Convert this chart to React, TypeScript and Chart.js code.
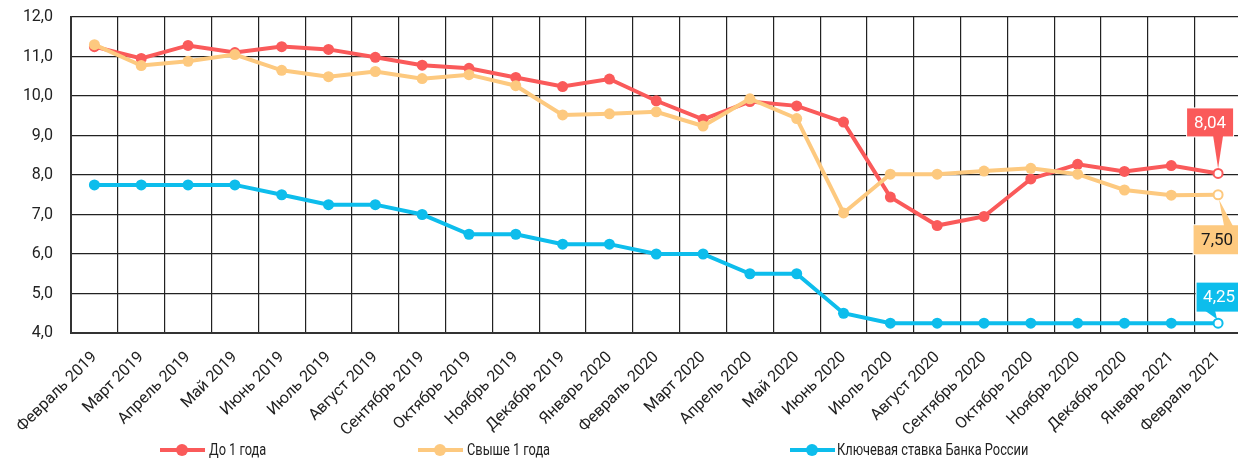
import React, { useEffect, useRef } from "react";
import { Chart, registerables } from "chart.js";

Chart.register(...registerables);

const categories = [
  "Февраль 2019", "Март 2019", "Апрель 2019", "Май 2019", "Июнь 2019", "Июль 2019",
  "Август 2019", "Сентябрь 2019", "Октябрь 2019", "Ноябрь 2019", "Декабрь 2019",
  "Январь 2020", "Февраль 2020", "Март 2020", "Апрель 2020", "Май 2020", "Июнь 2020",
  "Июль 2020", "Август 2020", "Сентябрь 2020", "Октябрь 2020", "Ноябрь 2020",
  "Декабрь 2020", "Январь 2021", "Февраль 2021",
];

const upTo1Year = [
  11.25, 10.95, 11.28, 11.1, 11.25, 11.18, 10.98, 10.78, 10.7, 10.47, 10.24,
  10.43, 9.88, 9.41, 9.86, 9.75, 9.34, 7.44, 6.72, 6.95, 7.9, 8.27, 8.09,
  8.24, 8.04,
];

const over1Year = [
  11.3, 10.77, 10.88, 11.05, 10.65, 10.49, 10.62, 10.44, 10.54, 10.26, 9.52,
  9.55, 9.6, 9.24, 9.93, 9.43, 7.04, 8.02, 8.02, 8.1, 8.17, 8.02, 7.62,
  7.49, 7.5,
];

const keyRate = [
  7.75, 7.75, 7.75, 7.75, 7.5, 7.25, 7.25, 7.0, 6.5, 6.5, 6.25,
  6.25, 6.0, 6.0, 5.5, 5.5, 4.5, 4.25, 4.25, 4.25, 4.25, 4.25, 4.25,
  4.25, 4.25,
];

const seriesNames = ["До 1 года", "Свыше 1 года", "Ключевая ставка Банка России"];
const seriesColors = ["#FA5A5A", "#FDC97F", "#0DBDEC"];
const yMin = 4;
const yMax = 12;
const yStep = 1;

const FONT = "Roboto, 'Noto Sans', sans-serif";

// callout styling per series: box center offset from last point, size, text colour, pointer
const callouts = [
  { dx: -8, dy: -51, w: 46, h: 28, text: "#ffffff", base: [[-5, 0], [5, 0]], baseAt: "bottom", tip: [0, -5] },
  { dx: -1, dy: 45, w: 47, h: 29, text: "#1a1a1a", base: [[6, 0], [15, 0]], baseAt: "top", tip: [1, 5] },
  { dx: 1, dy: -26, w: 45, h: 29, text: "#ffffff", base: [[-13, 0], [-3, 0]], baseAt: "bottom", tip: [-1, -4] },
];

const fmt = (v: number, d: number) => v.toFixed(d).replace(".", ",");

const calloutPlugin = {
  id: "callouts",
  afterDatasetsDraw(chart: any) {
    const ctx = chart.ctx;
    chart.data.datasets.forEach((ds: any, i: number) => {
      const meta = chart.getDatasetMeta(i);
      const pt = meta.data[meta.data.length - 1];
      if (!pt) return;
      const c = callouts[i];
      const x = pt.x;
      const y = pt.y;
      const cx = x + c.dx;
      const cy = y + c.dy;
      const bx = cx - c.w / 2;
      const by = cy - c.h / 2;
      const baseY = c.baseAt === "bottom" ? by + c.h : by;
      ctx.save();
      ctx.fillStyle = seriesColors[i];
      ctx.strokeStyle = "#ffffff";
      ctx.lineWidth = 2;
      ctx.strokeRect(bx, by, c.w, c.h);
      ctx.fillRect(bx, by, c.w, c.h);
      ctx.beginPath();
      ctx.moveTo(x + c.base[0][0], baseY + (c.baseAt === "bottom" ? -1 : 1));
      ctx.lineTo(x + c.base[1][0], baseY + (c.baseAt === "bottom" ? -1 : 1));
      ctx.lineTo(x + c.tip[0], y + c.tip[1]);
      ctx.closePath();
      ctx.fill();
      ctx.fillStyle = c.text;
      ctx.font = `17px ${FONT}`;
      ctx.textAlign = "center";
      ctx.textBaseline = "middle";
      const v = ds.data[ds.data.length - 1];
      ctx.fillText(fmt(v, 2), cx, cy + 1);
      ctx.restore();
    });
  },
};

const legendItems = [
  { line: 160, dot: 182, text: 209 },
  { line: 418, dot: 440, text: 467 },
  { line: 790, dot: 812, text: 837 },
];

export default function App() {
  const ref = useRef<HTMLCanvasElement | null>(null);

  useEffect(() => {
    if (!ref.current) return;
    const last = categories.length - 1;
    const mkDs = (label: string, data: number[], color: string, order: number) => ({
      label,
      data,
      borderColor: color,
      backgroundColor: color,
      borderWidth: 4,
      pointRadius: (c: any) => (c.dataIndex === last ? 4.5 : 5.5),
      pointBackgroundColor: (c: any) => (c.dataIndex === last ? "#ffffff" : color),
      pointBorderColor: color,
      pointBorderWidth: (c: any) => (c.dataIndex === last ? 2 : 0),
      tension: 0,
      order,
    });
    const chart = new Chart(ref.current, {
      type: "line",
      data: {
        labels: categories,
        datasets: [
          mkDs(seriesNames[0], upTo1Year, seriesColors[0], 3),
          mkDs(seriesNames[1], over1Year, seriesColors[1], 2),
          mkDs(seriesNames[2], keyRate, seriesColors[2], 1),
        ],
      },
      options: {
        responsive: false,
        animation: false,
        events: [],
        layout: { padding: { top: 17, right: 0, bottom: 0, left: 0 } },
        plugins: { legend: { display: false }, tooltip: { enabled: false } },
        scales: {
          x: {
            offset: true,
            grid: { offset: true, color: "#222222", lineWidth: 1.2, drawTicks: false },
            border: { color: "#333333", width: 2 },
            ticks: {
              color: "#222222",
              font: { family: FONT, size: 16 },
              minRotation: 45,
              maxRotation: 45,
              autoSkip: false,
              padding: 15,
            },
            afterFit: (s: any) => {
              s.height = 461 - 333;
            },
          },
          y: {
            min: yMin,
            max: yMax,
            grid: {
              color: "#222222",
              lineWidth: 1.2,
              drawTicks: true,
              tickLength: 18,
              tickColor: "rgba(0,0,0,0)",
            },
            border: { color: "#333333", width: 2 },
            ticks: {
              stepSize: yStep,
              color: "#222222",
              font: { family: FONT, size: 16 },
              padding: 0,
              callback: (v: any) => fmt(Number(v), 1),
            },
            afterFit: (s: any) => {
              s.width = 71;
            },
          },
        },
      },
      plugins: [calloutPlugin],
    });
    return () => chart.destroy();
  }, []);

  return (
    <div style={{ position: "fixed", left: 0, top: 0, width: 1238, height: 461, overflow: "hidden", background: "#ffffff" }}>
      <canvas ref={ref} width={1248} height={461} style={{ position: "absolute", left: 0, top: 0 }} />
      {legendItems.map((it, i) => (
        <React.Fragment key={i}>
          <div style={{ position: "absolute", left: it.line, top: 448, width: 45, height: 4, background: seriesColors[i] }} />
          <div style={{ position: "absolute", left: it.dot - 6, top: 444, width: 12, height: 12, borderRadius: 6, background: seriesColors[i] }} />
          <div
            style={{
              position: "absolute",
              left: it.text,
              top: 440,
              height: 20,
              lineHeight: "20px",
              fontFamily: FONT,
              fontSize: 16,
              color: "#222222",
              whiteSpace: "nowrap",
              transform: "scaleX(0.8)",
              transformOrigin: "left center",
            }}
          >
            {seriesNames[i]}
          </div>
        </React.Fragment>
      ))}
    </div>
  );
}
